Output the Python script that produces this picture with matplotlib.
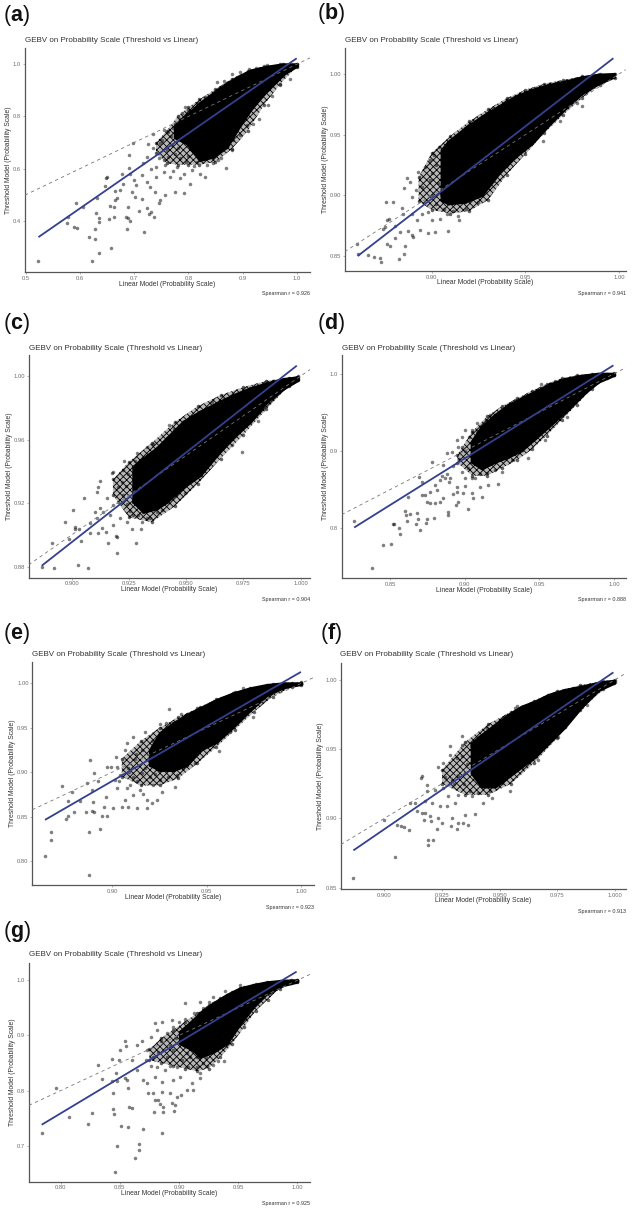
import numpy as np
import matplotlib
matplotlib.use("Agg")
import matplotlib.pyplot as plt

plt.rcParams['font.family'] = ['Liberation Sans', 'DejaVu Sans']
plt.rcParams['mathtext.fontset'] = 'custom'
plt.rcParams['mathtext.bf'] = 'Liberation Sans:bold'
plt.rcParams['hatch.linewidth'] = 0.6

FIG_W, FIG_H = 633, 1213
TITLE = "GEBV on Probability Scale (Threshold vs Linear)"
XLABEL = "Linear Model (Probability Scale)"
YLABEL = "Threshold Model (Probability Scale)"
POINT_COLOR = "#000000"
FIT_COLOR = "#34408f"
TEXT_GREY = "#333333"
TICK_GREY = "#6e6e6e"

# ---------- panel a ----------
a_spearman = "0.926"
a_xticks = [0.5, 0.6, 0.7, 0.8, 0.9, 1.0]
a_yticks = [0.4, 0.6, 0.8, 1.0]
a_xticklabels = ["0.5", "0.6", "0.7", "0.8", "0.9", "1.0"]
a_yticklabels = ["0.4", "0.6", "0.8", "1.0"]
a_fit_x = [0.523, 1.0]
a_fit_y = [0.337, 1.023]
a_core_x = [0.775, 0.797, 0.821, 0.846, 0.871, 0.895, 0.914, 0.945, 0.975, 1.0]
a_core_hi = [0.76, 0.806, 0.851, 0.889, 0.927, 0.955, 0.976, 0.991, 1.0, 1.0]
a_core_lo = [0.72, 0.697, 0.633, 0.646, 0.684, 0.767, 0.825, 0.902, 0.963, 0.994]
a_fringe_x = [.74, .76, .78, .80, .82, .85, .88, .91, .94, .97, 1.0]
a_fringe_hi = [.70, .745, .80, .835, .865, .905, .945, .975, .993, 1.0, 1.003]
a_fringe_lo = [.66, .62, .615, .615, .615, .625, .675, .745, .845, .925, .99]
a_points = [
    (.5216, .2435), (.622, .2448), (.635, .2742), (.657, .2947), (.617, .338), (.627, .3306),
    (.627, .3677), (.686, .3677), (.718, .3574), (.575, .392), (.589, .3766), (.595, .3728),
    (.578, .415), (.592, .4688), (.606, .451), (.629, .430), (.635, .4086), (.634, .3933),
    (.653, .407), (.663, .415), (.655, .456), (.663, .453), (.664, .479), (.669, .489),
    (.685, .415), (.689, .412), (.692, .400), (.689, .451), (.709, .438), (.724, .447),
    (.730, .434), (.728, .425), (.737, .415), (.745, .466), (.631, .489), (.647, .565),
    (.649, .569), (.646, .533), (.664, .515), (.674, .517), (.677, .579), (.693, .581),
    (.691, .652), (.691, .601), (.697, .697), (.726, .694), (.735, .731), (.696, .511),
    (.704, .537), (.701, .492), (.714, .485), (.723, .549), (.729, .530), (.738, .511),
    (.748, .479), (.757, .498), (.775, .511), (.791, .505), (.803, .539), (.831, .569),
    (.870, .603), (.822, .581), (.855, .633), (.717, .620), (.723, .645), (.741, .607),
    (.754, .588), (.766, .569), (.741, .569), (.754, .633), (.763, .645), (.778, .607),
    (.791, .581), (.806, .594), (.735, .677), (.748, .697), (.754, .748), (.763, .741),
    (.772, .754), (.794, .837), (.788, .812), (.852, .933), (.880, .963), (.911, .981),
    (.945, .997), (.947, .844), (.969, .921), (.987, .942), (.908, .767), (.883, .709),
    (.846, .620), (.770, .690), (.760, .670), (.775, .655), (.785, .640), (.795, .625),
    (.810, .610), (.752, .710), (.768, .725), (.781, .680), (.745, .640), (.757, .615),
    (.772, .590), (.785, .565), (.730, .600), (.715, .575), (.700, .555), (.680, .540),
    (.800, .650), (.815, .625), (.835, .615), (.860, .640), (.880, .672), (.895, .730),
    (.775, .770), (.785, .790), (.800, .825), (.815, .850), (.830, .875), (.865, .935),
    (.895, .970), (.925, .985), (.930, .790), (.955, .880), (.920, .770), (.975, .955),
]

# ---------- panel b ----------
b_spearman = "0.941"
b_xticks = [0.90, 0.95, 1.00]
b_yticks = [0.85, 0.90, 0.95, 1.00]
b_xticklabels = ["0.90", "0.95", "1.00"]
b_yticklabels = ["0.85", "0.90", "0.95", "1.00"]
b_fit_x = [0.8605, 0.997]
b_fit_y = [0.85, 1.013]
b_core_x = [.9053, .9089, .9178, .9267, .9356, .9445, .9534, .9623, .9712, .9801, .989, .9973]
b_core_hi = [.9374, .9442, .9552, .9648, .9731, .9813, .9868, .9909, .9937, .9973, .9995, 1.0]
b_core_lo = [.8962, .8934, .8948, .9003, .918, .9319, .9429, .958, .9717, .9841, .9923, .9978]
b_fringe_x = [.893, .90, .91, .92, .93, .94, .95, .96, .97, .98, .99, .998]
b_fringe_hi = [.915, .935, .949, .961, .971, .98, .987, .992, .995, .998, 1.0, 1.0]
b_fringe_lo = [.895, .888, .885, .887, .896, .917, .934, .951, .966, .98, .991, .997]
b_points = [
    (.8605, .8515), (.8658, .8512), (.8694, .849), (.8724, .8485), (.8728, .8452), (.8827, .8477),
    (.8854, .852), (.8859, .8581), (.8804, .8647), (.876, .8603), (.8778, .8581), (.8603, .8603),
    (.8751, .874), (.8742, .8719), (.876, .8796), (.8772, .8804), (.8754, .8941), (.8795, .8941),
    (.8804, .8746), (.8831, .8699), (.8872, .8705), (.8897, .8677), (.8899, .8653), (.8849, .885),
    (.8843, .8892), (.8854, .9057), (.8866, .9139), (.8884, .9112), (.8893, .8988), (.8916, .9043),
    (.8893, .885), (.892, .8796), (.8947, .885), (.8982, .8864), (.8938, .8713), (.8982, .8686),
    (.9018, .8699), (.9089, .8708), (.9, .8796), (.9045, .8809), (.9146, .8796), (.9142, .8829),
    (.908, .885), (.8929, .9194), (.8964, .9236), (.8991, .9126), (.8947, .907), (.8991, .9291),
    (.9039, .94), (.9098, .9456), (.916, .9483), (.9285, .9662), (.9498, .984), (.9632, .9909),
    (.9801, .9736), (.9596, .9447), (.9012, .933), (.9025, .925), (.9, .918), (.9033, .91),
    (.9048, .9), (.9, .9), (.9022, .893), (.9065, .889), (.9115, .8875), (.9185, .889),
    (.9245, .8945), (.9325, .912), (.94, .925), (.9495, .9375), (.9215, .9585), (.9325, .971),
    (.9405, .978), (.9555, .9885), (.9675, .9935), (.9685, .9615), (.9775, .9765),
]

# ---------- panel c ----------
c_spearman = "0.904"
c_xticks = [0.900, 0.925, 0.950, 0.975, 1.000]
c_yticks = [0.88, 0.92, 0.96, 1.00]
c_xticklabels = ["0.900", "0.925", "0.950", "0.975", "1.000"]
c_yticklabels = ["0.88", "0.92", "0.96", "1.00"]
c_fit_x = [0.8869, 0.9983]
c_fit_y = [0.8806, 1.0065]
c_core_x = [.9269, .9313, .9371, .9415, .9488, .9561, .9633, .9706, .9779, .9852, .9925, .9987]
c_core_hi = [.9429, .9482, .9545, .9608, .9713, .9776, .9828, .988, .9922, .9954, .9981, .9992]
c_core_lo = [.9209, .9146, .9167, .9209, .9303, .9377, .9503, .9618, .9713, .9838, .9922, .9975]
c_fringe_x = [.918, .925, .935, .945, .955, .965, .975, .985, .995, .999]
c_fringe_hi = [.935, .946, .958, .971, .981, .988, .993, .997, .999, 1.0]
c_fringe_lo = [.925, .911, .908, .918, .932, .948, .963, .979, .994, .998]
c_points = [
    (.8869, .8796), (.8924, .8792), (.9029, .8808), (.9073, .8792), (.9197, .8884), (.8916, .8951),
    (.9041, .8964), (.9159, .8947), (.9281, .8947), (.9192, .8993), (.9199, .8985), (.8971, .9079),
    (.9007, .9157), (.9054, .9232), (.9015, .9052), (.9015, .9037), (.9033, .9035), (.899, .8972),
    (.908, .901), (.9116, .901), (.915, .902), (.908, .9073), (.9109, .9104), (.9102, .9142),
    (.9124, .9167), (.9109, .9272), (.9116, .93), (.9124, .9341), (.9175, .9392), (.9182, .9394),
    (.923, .9467), (.9153, .923), (.9182, .9188), (.9204, .9209), (.9211, .9104), (.924, .9083),
    (.9262, .9037), (.9301, .9037), (.9306, .9083), (.9269, .9125), (.9328, .9104), (.9371, .9146),
    (.9495, .9261), (.9427, .9692), (.9612, .9834), (.9815, .9715), (.9699, .9568), (.9226, .9408),
    (.9218, .9335), (.9204, .9303), (.9284, .9513), (.9328, .9555), (.9167, .9125), (.9138, .9146),
    (.9131, .9041), (.9182, .9062), (.9245, .9385), (.9238, .931), (.9222, .925), (.9242, .9195),
    (.9255, .915), (.9288, .9125), (.934, .9105), (.9395, .9155), (.9455, .925), (.953, .935),
    (.9275, .9465), (.9355, .957), (.9445, .9665), (.9525, .975), (.9665, .9855), (.9745, .952),
]

# ---------- panel d ----------
d_spearman = "0.888"
d_xticks = [0.85, 0.90, 0.95, 1.00]
d_yticks = [0.8, 0.9, 1.0]
d_xticklabels = ["0.85", "0.90", "0.95", "1.00"]
d_yticklabels = ["0.8", "0.9", "1.0"]
d_fit_x = [0.826, 0.9996]
d_fit_y = [0.801, 1.0108]
d_core_x = [.9047, .9114, .9203, .9292, .9381, .9471, .956, .9671, .9783, .9894, .9999]
d_core_hi = [.9121, .9315, .9466, .9595, .9681, .9767, .9853, .9931, .9974, 1.0, 1.0]
d_core_lo = [.8862, .8776, .8862, .8927, .9013, .9164, .9315, .9509, .9724, .9897, .9983]
d_fringe_x = [.895, .905, .915, .925, .935, .945, .955, .965, .975, .985, .995, 1.0]
d_fringe_hi = [.895, .925, .945, .958, .968, .978, .987, .994, .998, 1.0, 1.0, 1.001]
d_fringe_lo = [.885, .868, .868, .878, .888, .902, .92, .94, .96, .98, .994, .998]
d_points = [
    (.8382, .7492), (.8451, .7785), (.8505, .7802), (.8262, .8091), (.8518, .806), (.853, .806),
    (.8561, .8009), (.8567, .7927), (.8601, .8229), (.8606, .8173), (.8634, .8185), (.8616, .8095),
    (.8679, .8194), (.869, .8117), (.8674, .8056), (.8701, .7979), (.8741, .8065), (.875, .8117),
    (.8797, .8138), (.8891, .8173), (.8886, .8207), (.902, .8246), (.894, .8302), (.8746, .8345),
    (.8768, .8323), (.8802, .8323), (.8835, .8345), (.8857, .8388), (.8735, .8431), (.8712, .8431),
    (.8623, .841), (.8768, .8474), (.8802, .856), (.8835, .8625), (.8868, .8655), (.8902, .8647),
    (.8946, .8539), (.8946, .8474), (.8958, .8345), (.8991, .8453), (.9047, .8453), (.9058, .8388),
    (.9114, .8401), (.9103, .8539), (.9158, .856), (.9221, .8569), (.8694, .8668), (.8712, .8604),
    (.8784, .8862), (.8857, .8819), (.888, .897), (.8913, .8991), (.8946, .9142), (.898, .9185),
    (.8958, .9056), (.9002, .9272), (.9047, .9272), (.908, .9358), (.9169, .9466), (.9337, .9659),
    (.9508, .9866), (.9426, .8905), (.9682, .9444), (.9537, .9142), (.9025, .8776), (.9002, .8647),
    (.898, .8733), (.9069, .8647), (.9248, .8733), (.9314, .8884), (.9, .9), (.8965, .89),
    (.8925, .88), (.8885, .87), (.8845, .868), (.8815, .85), (.8895, .86), (.8925, .845),
    (.9, .855), (.905, .865), (.91, .87), (.915, .872), (.92, .875), (.898, .905),
    (.903, .918), (.9085, .925), (.914, .94), (.925, .952), (.9415, .972), (.9605, .99),
]

# ---------- panel e ----------
e_spearman = "0.923"
e_xticks = [0.90, 0.95, 1.00]
e_yticks = [0.80, 0.85, 0.90, 0.95, 1.00]
e_xticklabels = ["0.90", "0.95", "1.00"]
e_yticklabels = ["0.80", "0.85", "0.90", "0.95", "1.00"]
e_fit_x = [0.8644, 0.9998]
e_fit_y = [0.8463, 1.0128]
e_core_x = [.9199, .9252, .9323, .9393, .9464, .9552, .964, .9729, .9817, .9905, 1.0]
e_core_hi = [.925, .9438, .955, .9644, .9719, .9813, .9888, .9944, .9981, 1.0, 1.0]
e_core_lo = [.9081, .9025, .9025, .9081, .925, .9344, .9513, .97, .9869, .9955, .9993]
e_fringe_x = [.905, .915, .925, .935, .945, .955, .965, .975, .985, .995, 1.0]
e_fringe_hi = [.915, .935, .95, .962, .972, .982, .99, .995, .999, 1.0, 1.001]
e_fringe_lo = [.895, .885, .885, .893, .91, .928, .948, .968, .985, .996, .998]
e_points = [
    (.8644, .8061), (.8674, .8324), (.8676, .8234), (.8878, .7844), (.8878, .8331), (.8935, .8358),
    (.8732, .8849), (.8884, .9138), (.8785, .8781), (.8764, .8676), (.8753, .8474), (.8764, .8508),
    (.8797, .8549), (.8829, .8673), (.8859, .8549), (.8891, .8564), (.8905, .8549), (.8944, .8511),
    (.8974, .8508), (.8899, .8669), (.8956, .8613), (.8966, .8725), (.8891, .88), (.8903, .8995),
    (.8868, .8883), (.8926, .8905), (.897, .9055), (.8991, .9055), (.9014, .8913), (.9019, .9168),
    (.9026, .9063), (.9067, .925), (.9076, .9325), (.9111, .94), (.9173, .9449), (.9252, .9543),
    (.9302, .9708), (.9067, .8688), (.9002, .8594), (.9049, .8613), (.9085, .8613), (.9129, .8594),
    (.9182, .8601), (.9208, .865), (.9235, .8688), (.9262, .8781), (.9332, .8838), (.934, .8969),
    (.9437, .91), (.9023, .8819), (.9076, .8819), (.9111, .8744), (.9146, .88), (.9182, .8688),
    (.9217, .8856), (.9252, .8913), (.9111, .895), (.9155, .8988), (.9041, .8969), (.9566, .9243),
    (.969, .9944), (.9623, .9456), (.9746, .9625), (.9095, .885), (.913, .89), (.9165, .875),
    (.92, .895), (.9085, .905), (.912, .915), (.9155, .925), (.909, .9), (.9035, .89),
    (.9175, .905), (.9225, .898), (.9265, .903), (.9295, .895), (.9375, .905), (.945, .92),
    (.921, .935), (.9285, .955), (.9365, .965), (.9465, .9735), (.9575, .984), (.9125, .92),
]

# ---------- panel f ----------
f_spearman = "0.913"
f_xticks = [0.900, 0.925, 0.950, 0.975, 1.000]
f_yticks = [0.85, 0.90, 0.95, 1.00]
f_xticklabels = ["0.900", "0.925", "0.950", "0.975", "1.000"]
f_yticklabels = ["0.85", "0.90", "0.95", "1.00"]
f_fit_x = [0.8866, 0.9993]
f_fit_y = [0.8769, 1.0053]
f_core_x = [.9379, .9422, .948, .9538, .9595, .9653, .9711, .9783, .9855, .9928, .9996]
f_core_hi = [.9542, .9602, .9674, .9746, .9806, .9842, .989, .9926, .995, .9978, .9993]
f_core_lo = [.9326, .923, .923, .9302, .9374, .9446, .9542, .9662, .9806, .9926, .9978]
f_fringe_x = [.925, .935, .945, .955, .965, .975, .985, .995, 1.0]
f_fringe_hi = [.935, .955, .968, .977, .985, .992, .996, .999, 1.0]
f_fringe_lo = [.925, .917, .917, .925, .94, .958, .978, .993, .998]
f_points = [
    (.8863, .8567), (.9046, .8721), (.9188, .881), (.9191, .8846), (.921, .8846), (.8999, .899),
    (.9053, .8954), (.9072, .8946), (.9085, .8937), (.9105, .8918), (.914, .905), (.9162, .9042),
    (.9176, .9038), (.9173, .8985), (.9198, .9018), (.9202, .8978), (.923, .8925), (.9234, .9002),
    (.9249, .8966), (.9289, .8942), (.9314, .8925), (.9321, .8966), (.9342, .8966), (.9364, .8954),
    (.935, .9026), (.9393, .9034), (.9292, .9002), (.9111, .911), (.9133, .911), (.9176, .9122),
    (.9205, .911), (.9241, .9086), (.927, .9086), (.9306, .911), (.9162, .9302), (.9159, .929),
    (.9184, .9242), (.9184, .9194), (.922, .9206), (.9256, .9218), (.9277, .9158), (.9321, .917),
    (.9379, .9158), (.9429, .911), (.9465, .9146), (.9545, .9194), (.9234, .9374), (.9253, .9402),
    (.9285, .9522), (.9285, .9458), (.9314, .9434), (.9335, .9597), (.9335, .953), (.9444, .965),
    (.9574, .981), (.9751, .9585), (.9668, .9422), (.9877, .9818), (.935, .9326), (.9321, .9302),
    (.9292, .9278), (.9566, .9794), (.9345, .925), (.937, .92), (.9405, .918), (.946, .92),
    (.951, .9255), (.9565, .934), (.961, .941), (.9665, .949), (.9265, .93), (.93, .925),
    (.936, .9395), (.9335, .945), (.9375, .952), (.941, .9585), (.947, .9665), (.9525, .9735),
]

# ---------- panel g ----------
g_spearman = "0.925"
g_xticks = [0.80, 0.85, 0.90, 0.95, 1.00]
g_yticks = [0.7, 0.8, 0.9, 1.0]
g_xticklabels = ["0.80", "0.85", "0.90", "0.95", "1.00"]
g_yticklabels = ["0.7", "0.8", "0.9", "1.0"]
g_fit_x = [0.7839, 0.9994]
g_fit_y = [0.738, 1.0157]
g_core_x = [.9008, .9121, .9177, .929, .9403, .9516, .9628, .9741, .9882, 1.0]
g_core_hi = [.9068, .928, .9401, .9583, .9734, .9855, .9915, .9964, .9994, 1.0]
g_core_lo = [.8857, .8736, .8615, .8705, .8857, .922, .9522, .9764, .9915, .9976]
g_fringe_x = [.875, .885, .895, .905, .915, .925, .935, .945, .955, .965, .975, .985, .995, 1.0]
g_fringe_hi = [.875, .895, .91, .925, .94, .955, .968, .978, .987, .993, .996, .999, 1.001, 1.001]
g_fringe_lo = [.855, .85, .845, .84, .835, .84, .86, .885, .915, .945, .965, .985, .995, .998]
g_points = [
    (.8459, .6527), (.8625, .6769), (.8659, .6921), (.8662, .7029), (.8479, .6993), (.7839, .7235),
    (.8071, .752), (.8234, .7392), (.8268, .7598), (.8439, .7665), (.845, .7568), (.8508, .735),
    (.8566, .7344), (.8699, .7296), (.8856, .7229), (.7958, .8046), (.8315, .8457), (.8346, .8203),
    (.8437, .8566), (.8445, .7961), (.8431, .8179), (.8473, .8179), (.8467, .8312), (.8501, .8736),
    (.8544, .8899), (.8552, .8808), (.8496, .8554), (.8544, .8221), (.8558, .8191), (.8572, .8052),
    (.858, .7695), (.86, .7677), (.8642, .8826), (.8684, .8905), (.86, .8554), (.8642, .8373),
    (.8699, .8191), (.8727, .8131), (.8741, .7949), (.8789, .7616), (.8797, .7828), (.8825, .7828),
    (.8839, .7755), (.8868, .7707), (.8868, .7616), (.8961, .7628), (.8938, .7768), (.8966, .7737),
    (.898, .7889), (.9017, .7919), (.8924, .7949), (.8854, .7979), (.8783, .7961), (.8797, .9232),
    (.8854, .925), (.8938, .928), (.9051, .9595), (.9177, .9613), (.8761, .8977), (.8811, .9099),
    (.8727, .8736), (.8783, .8615), (.8811, .8433), (.8882, .8373), (.8952, .8191), (.9008, .8252),
    (.9065, .801), (.9121, .801), (.9107, .8131), (.9177, .8221), (.9079, .8433), (.9149, .8433),
    (.9234, .8445), (.9332, .8536), (.9379, .8542), (.929, .8463), (.8896, .8615), (.8952, .8736),
    (.898, .8433), (.9022, .8554), (.9065, .8675), (.9149, .8615), (.9177, .8312), (.9206, .8494),
    (.9516, .9915), (.9389, .9806), (.929, .9691), (.9459, .9038), (.9628, .9583), (.9769, .9764),
    (.885, .89), (.89, .905), (.895, .915), (.8975, .895), (.892, .88), (.905, .88),
    (.91, .9), (.9, .925), (.905, .93), (.9125, .94), (.92, .95), (.925, .96),
    (.9095, .86), (.915, .875), (.9225, .86), (.9255, .875), (.935, .885), (.9415, .895),
    (.8725, .855), (.876, .845), (.8825, .87), (.88, .825), (.8855, .815), (.892, .845),
]

# Pixel layout of each panel: axes box, two calibration ticks on each axis,
# and the positions of the surrounding text.
panels = [
    dict(tag="a", pts=a_points, cx=a_core_x, hi=a_core_hi, lo=a_core_lo,
         gx=a_fringe_x, ghi=a_fringe_hi, glo=a_fringe_lo, fx=a_fit_x, fy=a_fit_y,
         xt=a_xticks, yt=a_yticks, xl=a_xticklabels, yl=a_yticklabels, r=a_spearman,
         box=(25, 48, 310, 272), xcal=(0.5, 26, 1.0, 296.7), ycal=(1.0, 64.3, 0.4, 220.7),
         tagxy=(3, 15), titlexy=(25, 40), ylx=9, rxy=(310, 293)),
    dict(tag="b", pts=b_points, cx=b_core_x, hi=b_core_hi, lo=b_core_lo,
         gx=b_fringe_x, ghi=b_fringe_hi, glo=b_fringe_lo, fx=b_fit_x, fy=b_fit_y,
         xt=b_xticks, yt=b_yticks, xl=b_xticklabels, yl=b_yticklabels, r=b_spearman,
         box=(344.7, 48, 625.7, 271), xcal=(0.90, 431.7, 1.00, 619), ycal=(1.00, 74, 0.85, 256),
         tagxy=(317, 14), titlexy=(345, 40), ylx=326, rxy=(626, 293)),
    dict(tag="c", pts=c_points, cx=c_core_x, hi=c_core_hi, lo=c_core_lo,
         gx=c_fringe_x, ghi=c_fringe_hi, glo=c_fringe_lo, fx=c_fit_x, fy=c_fit_y,
         xt=c_xticks, yt=c_yticks, xl=c_xticklabels, yl=c_yticklabels, r=c_spearman,
         box=(28.7, 355, 310, 577.7), xcal=(0.900, 71.7, 1.000, 300.7), ycal=(1.00, 376, 0.88, 566.7),
         tagxy=(3, 324), titlexy=(29, 348), ylx=10, rxy=(310, 600)),
    dict(tag="d", pts=d_points, cx=d_core_x, hi=d_core_hi, lo=d_core_lo,
         gx=d_fringe_x, ghi=d_fringe_hi, glo=d_fringe_lo, fx=d_fit_x, fy=d_fit_y,
         xt=d_xticks, yt=d_yticks, xl=d_xticklabels, yl=d_yticklabels, r=d_spearman,
         box=(341.7, 355, 626, 578.3), xcal=(0.85, 390, 1.00, 614), ycal=(1.0, 373.7, 0.8, 528.3),
         tagxy=(317, 324), titlexy=(342, 348), ylx=326, rxy=(626, 600)),
    dict(tag="e", pts=e_points, cx=e_core_x, hi=e_core_hi, lo=e_core_lo,
         gx=e_fringe_x, ghi=e_fringe_hi, glo=e_fringe_lo, fx=e_fit_x, fy=e_fit_y,
         xt=e_xticks, yt=e_yticks, xl=e_xticklabels, yl=e_yticklabels, r=e_spearman,
         box=(32.3, 661.7, 313.7, 885.3), xcal=(0.90, 112.3, 1.00, 301.3), ycal=(1.00, 683.3, 0.80, 861),
         tagxy=(3, 634), titlexy=(32, 654), ylx=13, rxy=(314, 907)),
    dict(tag="f", pts=f_points, cx=f_core_x, hi=f_core_hi, lo=f_core_lo,
         gx=f_fringe_x, ghi=f_fringe_hi, glo=f_fringe_lo, fx=f_fit_x, fy=f_fit_y,
         xt=f_xticks, yt=f_yticks, xl=f_xticklabels, yl=f_yticklabels, r=f_spearman,
         box=(341, 662.7, 626, 889), xcal=(0.900, 384.3, 1.000, 615), ycal=(1.00, 679.7, 0.85, 887.7),
         tagxy=(320, 634), titlexy=(340, 654), ylx=321, rxy=(626, 911)),
    dict(tag="g", pts=g_points, cx=g_core_x, hi=g_core_hi, lo=g_core_lo,
         gx=g_fringe_x, ghi=g_fringe_hi, glo=g_fringe_lo, fx=g_fit_x, fy=g_fit_y,
         xt=g_xticks, yt=g_yticks, xl=g_xticklabels, yl=g_yticklabels, r=g_spearman,
         box=(29, 962.7, 310, 1181.7), xcal=(0.80, 60.7, 1.00, 297.3), ycal=(1.0, 980.3, 0.7, 1145.7),
         tagxy=(3, 932), titlexy=(29, 954), ylx=13, rxy=(310, 1203)),
]

fig = plt.figure(figsize=(FIG_W / 100, FIG_H / 100), dpi=100, facecolor="white")


def fx_px(x):
    return x / FIG_W


def fy_px(y):
    return 1 - y / FIG_H


def limits(cal, lo_px, hi_px):
    """Data limits for an axis span, given a (value, pixel, value, pixel) calibration."""
    v0, p0, v1, p1 = cal
    per_px = (v1 - v0) / (p1 - p0)
    return v0 + (lo_px - p0) * per_px, v0 + (hi_px - p0) * per_px


for p in panels:
    left, top, right, bottom = p["box"]
    ax = fig.add_axes([fx_px(left), fy_px(bottom), (right - left) / FIG_W, (bottom - top) / FIG_H])
    ax.set_xlim(*limits(p["xcal"], left, right))
    ax.set_ylim(*limits(p["ycal"], bottom, top))

    # Stippled band of overlapping points, then the fully saturated centre,
    # then the individually resolved points around them.
    ax.fill_between(p["gx"], p["glo"], p["ghi"], facecolor=(0, 0, 0, 0.28), edgecolor="black",
                    hatch="xxxxx", lw=0, zorder=1)
    ax.fill_between(p["cx"], p["lo"], p["hi"], color="black", lw=2.2, zorder=2)
    px, py = np.array(p["pts"]).T
    ax.scatter(px, py, s=6.5, c=POINT_COLOR, alpha=0.5, linewidths=0, zorder=3)
    ax.scatter(p["cx"] + p["cx"], p["hi"] + p["lo"], s=6.5, c=POINT_COLOR, alpha=0.6, linewidths=0, zorder=3)
    ax.scatter(p["gx"] + p["gx"], p["ghi"] + p["glo"], s=6.5, c=POINT_COLOR, alpha=0.6, linewidths=0, zorder=3)

    # Identity reference line and the fitted regression line.
    ax.axline((0.9, 0.9), slope=1, color="#777777", lw=0.6, ls=(0, (4, 4)), zorder=4)
    ax.plot(p["fx"], p["fy"], color=FIT_COLOR, lw=1.3, solid_capstyle="butt", zorder=5)

    for side in ("top", "right"):
        ax.spines[side].set_visible(False)
    for side in ("left", "bottom"):
        ax.spines[side].set_linewidth(0.9)
        ax.spines[side].set_color("#555555")
    ax.set_xticks(p["xt"], p["xl"])
    ax.set_yticks(p["yt"], p["yl"])
    ax.tick_params(length=1.2, width=0.4, color="#777777", labelcolor=TICK_GREY, labelsize=4.2, pad=1.5)

    # Surrounding text is placed in figure pixels so each panel keeps its own offsets.
    tx, ty = p["tagxy"]
    fig.text(fx_px(tx), fy_px(ty), "($\\mathbf{" + p["tag"] + "}$)", fontsize=15.5, color="#111111",
             va="center", ha="left")
    tx, ty = p["titlexy"]
    fig.text(fx_px(tx), fy_px(ty), TITLE, fontsize=5.8, color=TEXT_GREY, va="center", ha="left")
    fig.text(fx_px((left + right) / 2), fy_px(bottom + 12), XLABEL, fontsize=4.9, color=TEXT_GREY,
             va="center", ha="center")
    fig.text(fx_px(p["ylx"]), fy_px((top + bottom) / 2), YLABEL, fontsize=4.9, color=TEXT_GREY,
             va="center", ha="center", rotation=90)
    tx, ty = p["rxy"]
    fig.text(fx_px(tx), fy_px(ty), "Spearman r = " + p["r"], fontsize=3.85, color=TEXT_GREY,
             va="center", ha="right")

fig.savefig("out.png", dpi=100, facecolor="white")
